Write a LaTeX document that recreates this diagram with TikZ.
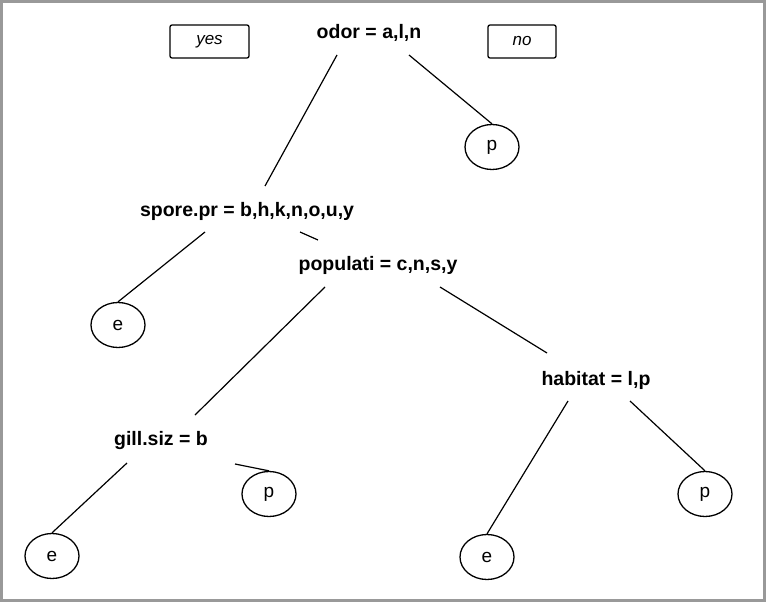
\documentclass[tikz,border=0pt]{standalone}
\usepackage{fontspec}
\setmainfont{Liberation Sans}
\usetikzlibrary{shapes.geometric}
\begin{document}
\begin{tikzpicture}[x=1pt,y=-1pt,
  split/.style={font=\bfseries\fontsize{19.5}{22}\selectfont, inner sep=1pt},
  leaf/.style={draw, ellipse, minimum width=54pt, minimum height=45pt, inner sep=0pt, font=\fontsize{19}{22}\selectfont, line width=1.3pt},
  lab/.style={draw, rounded corners=2pt, font=\itshape\fontsize{17}{20}\selectfont, line width=1.3pt},
  edge/.style={line width=1.2pt}]
\useasboundingbox (0,0) rectangle (766,602);
\draw[gray!80, line width=3pt] (1.5,1.5) rectangle (764.5,600.5);
\node[lab, minimum width=79pt, minimum height=33pt] (yes) at (209.5,41.5) {yes};
\node[lab, minimum width=68pt, minimum height=33pt] (no) at (522,41.5) {no};
\node[split] (odor) at (369,33) {odor = a,l,n};
\node[split] (spore) at (247,211) {spore.pr = b,h,k,n,o,u,y};
\node[split] (pop) at (378,265) {populati = c,n,s,y};
\node[split] (hab) at (596,380) {habitat = l,p};
\node[split] (gill) at (161,440) {gill.siz = b};
\node[leaf] (p1) at (492,147) {p};
\node[leaf] (e1) at (118,325) {e};
\node[leaf] (e2) at (52,556) {e};
\node[leaf] (p2) at (269,494) {p};
\node[leaf] (e3) at (487,557) {e};
\node[leaf] (p3) at (705,494) {p};
\coordinate (o1) at (337,55); \coordinate (o2) at (409,55);
\coordinate (s1) at (205,232); \coordinate (s2) at (300,232);
\coordinate (sE) at (318,240); \coordinate (sEnd) at (265,186);
\coordinate (q1) at (325,287); \coordinate (q2) at (440,287);
\coordinate (gEnd) at (195,415); \coordinate (hEnd) at (547,353);
\coordinate (h1) at (568,401); \coordinate (h2) at (630,401);
\coordinate (g1) at (127,463); \coordinate (g2) at (235,464);
\draw[edge] (o1) -- (sEnd);
\draw[edge] (o2) -- (p1.north);
\draw[edge] (s1) -- (e1.north);
\draw[edge] (s2) -- (sE);
\draw[edge] (q1) -- (gEnd);
\draw[edge] (q2) -- (hEnd);
\draw[edge] (h1) -- (e3.north);
\draw[edge] (h2) -- (p3.north);
\draw[edge] (g1) -- (e2.north);
\draw[edge] (g2) -- (p2.north);
\end{tikzpicture}
\end{document}
